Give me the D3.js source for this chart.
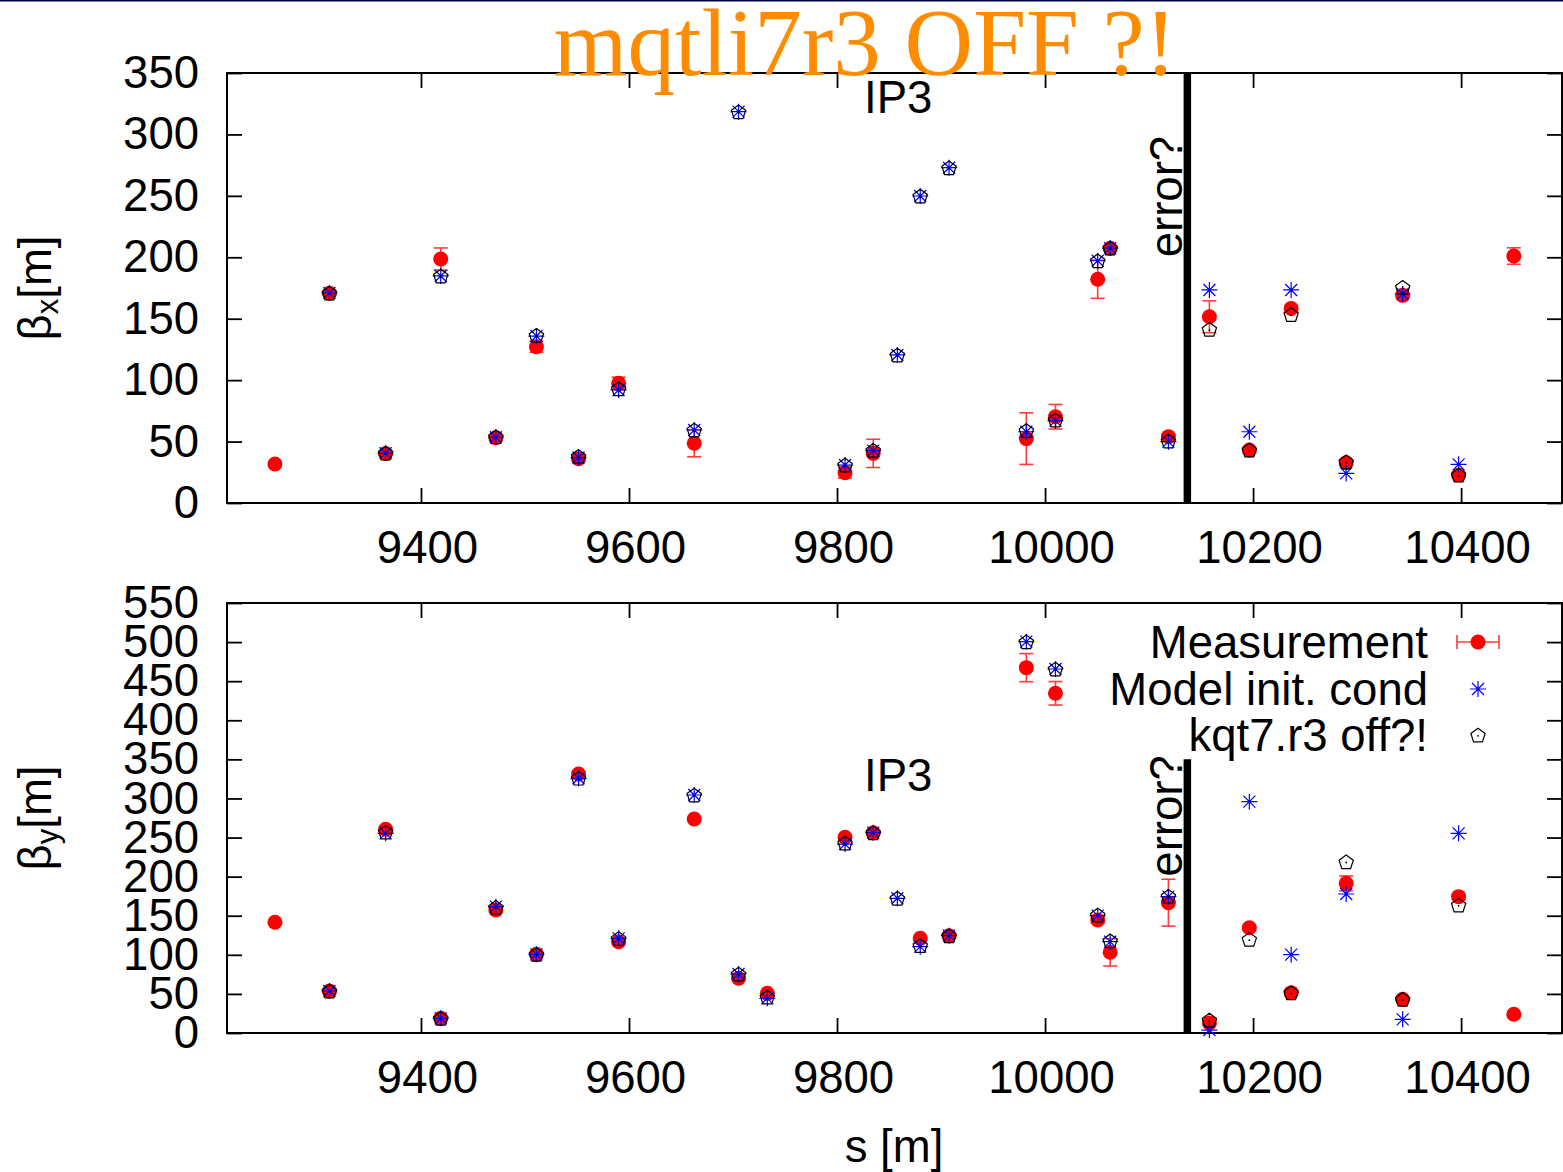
<!DOCTYPE html>
<html>
<head>
<meta charset="utf-8">
<script src="https://cdn.jsdelivr.net/npm/d3@7/dist/d3.min.js"></script>
<style>
  html, body { margin: 0; padding: 0; background: #fff; }
  svg { display: block; }
  text { font-family: "Liberation Sans", Arial, sans-serif; }
</style>
</head>
<body>
<svg id="chart" width="1563" height="1172"></svg>
<script>
// ---------------- data ----------------
const sPos = [9259.6, 9312, 9366, 9419, 9472, 9511, 9551.5, 9590, 9662.7, 9705.3, 9733, 9807.7, 9834.8, 9858, 9880, 9907.7, 9982, 10010, 10050.6, 10062.6, 10118.6, 10158, 10196.4, 10236.6, 10289.5, 10343.8, 10397.6, 10450.7];

// horizontal plane (top panel)
const measX  = [31.7, 170.8, 40.3, 198.6, 53.2, 127.2, 36, 97.4, 48.6, null, null, 24.7, 40.4, null, null, null, 52.4, 70.2, 182.1, 207.3, 54, 151.6, 43.1, 158.4, 32.8, 169, 22.8, 201];
const errX   = [1, 1.5, 1.5, 9, 2, 4.5, 2, 5, 11, null, null, 4.5, 11.5, null, null, null, 21, 10, 15.5, 2, 2, 13, 2, 2, 2, 2, 2, 6.7];
const modelX = [null, 171, 40.6, 184.8, 53.5, 135.9, 37, 92, 59.4, 318.5, null, 30.9, 42.6, 120.5, 249.9, 272.9, 58, 67, 197.2, 207.5, 49.9, 173.4, 58, 173.4, 24.1, 170.1, 31.5, null];
const offX   = [null, 171, 40.6, 184.8, 54, 136.5, 38, 93, 59.4, 318.5, null, 30.9, 43, 120.5, 249.9, 272.9, 59, 67.5, 197.2, 207.5, 50.5, 141.4, 43.1, 153.5, 33.6, 175.6, 22.8, null];

// vertical plane (bottom panel)
const measY  = [141.6, 53.7, 260.5, 18.8, 157.3, 100.6, 331.3, 116.8, 273.7, 70, 50.7, 250.3, 256.2, null, 121.1, 124.5, 467.3, 434.5, 144.5, 103.2, 166.7, 12.8, 134.7, 51.6, 191.4, 43.1, 174.4, 23.9];
const errY   = [1, 2, 3, 2, 2, 2, 3, 2, 2, 2, 2, 3, 3, null, 2, 2, 18, 15, 4, 17.5, 30, 2, 3, 2, 9.5, 2, 3, 2];
const modelY = [null, 53.7, 255.4, 18.8, 161.6, 100.6, 325.8, 121.1, 304.4, 75.5, 44.3, 241.7, 256.2, 172.3, 110.4, 124.5, 500.5, 465.6, 150.1, 116.8, 174.4, 3.8, 295.9, 100.2, 177.8, 17.5, 255.4, null];
const offY   = [null, 53.7, 257, 18.8, 161, 100.6, 326, 121, 304.4, 75.5, 46, 243, 256.2, 172.3, 112, 124.5, 500.5, 465.6, 151, 118, 175, 16.6, 119.8, 51.6, 219.1, 43.1, 163.7, null];

const xTicks = [9400, 9600, 9800, 10000, 10200, 10400];
const yTicksTop = [0, 50, 100, 150, 200, 250, 300, 350];
const yTicksBot = [0, 50, 100, 150, 200, 250, 300, 350, 400, 450, 500, 550];

const titleText = "mqtli7r3 OFF ?!";
const legendLabels = ["Measurement", "Model init. cond", "kqt7.r3 off?!"];
const errorLineS = 10136.8, errorLineTop = 350;
const errorLabel = {s: 10116, v: 200, text: "error?"};
const ipLabel = {s: 9826, v: 330, text: "IP3"};

// ---------------- layout ----------------
const svg = d3.select("#chart");
const L = 227, R = 1562;
const x = d3.scaleLinear().domain([9213.5, 10497]).range([L, R]);
const panels = [
  {top: 73, bottom: 503, domain: [0, 350], ticks: yTicksTop, meas: measX, err: errX, model: modelX, off: offX, sub: "x", legend: false},
  {top: 603, bottom: 1033, domain: [0, 550], ticks: yTicksBot, meas: measY, err: errY, model: modelY, off: offY, sub: "y", legend: true}
];

const RED = "#ff0000", ERR = "#ff3b3b", BLUE = "#0000ff";
const FS = 45.5;

// top navy strip
svg.append("rect").attr("x", 0).attr("y", 0).attr("width", 1563).attr("height", 1.5).attr("fill", "#000040");

function asterisk(g, cx, cy, r) {
  const p = d3.path();
  p.moveTo(cx - r, cy); p.lineTo(cx + r, cy);
  p.moveTo(cx, cy - r); p.lineTo(cx, cy + r);
  const d = r * 0.75;
  p.moveTo(cx - d, cy - d); p.lineTo(cx + d, cy + d);
  p.moveTo(cx - d, cy + d); p.lineTo(cx + d, cy - d);
  g.append("path").attr("d", p.toString()).attr("stroke", BLUE).attr("stroke-width", 1.2).attr("fill", "none");
}
function pentagon(g, cx, cy, r) {
  const pts = d3.range(5).map(i => {
    const a = -Math.PI / 2 + i * 2 * Math.PI / 5;
    return [cx + r * Math.cos(a), cy + r * Math.sin(a) + 0.8];
  });
  g.append("polygon").attr("points", pts.map(p => p.join(",")).join(" "))
    .attr("fill", "none").attr("stroke", "#000").attr("stroke-width", 1.2);
  g.append("circle").attr("cx", cx).attr("cy", cy + 0.8).attr("r", 0.9).attr("fill", "#000");
}
function errbar(g, cx, cy1, cy2, cap) {
  g.append("line").attr("x1", cx).attr("x2", cx).attr("y1", cy1).attr("y2", cy2)
    .attr("stroke", ERR).attr("stroke-width", 1.6);
  [cy1, cy2].forEach(yy => g.append("line").attr("x1", cx - cap).attr("x2", cx + cap)
    .attr("y1", yy).attr("y2", yy).attr("stroke", ERR).attr("stroke-width", 1.6));
}

panels.forEach(P => {
  const y = d3.scaleLinear().domain(P.domain).range([P.bottom, P.top]);
  const g = svg.append("g");

  // axes
  const ax = g.append("g").attr("transform", `translate(0,${P.bottom})`)
    .call(d3.axisBottom(x).tickValues(xTicks).tickSizeInner(-15).tickSizeOuter(0).tickPadding(28).tickFormat(d3.format("d")));
  ax.selectAll("text").attr("dx", 6);
  const axT = g.append("g").attr("transform", `translate(0,${P.top})`)
    .call(d3.axisTop(x).tickValues(xTicks).tickSizeInner(-15).tickSizeOuter(0).tickFormat(""));
  const ay = g.append("g").attr("transform", `translate(${L},0)`)
    .call(d3.axisLeft(y).tickValues(P.ticks).tickSizeInner(-15).tickSizeOuter(0).tickPadding(28));
  const ayR = g.append("g").attr("transform", `translate(${R},0)`)
    .call(d3.axisRight(y).tickValues(P.ticks).tickSizeInner(-15).tickSizeOuter(0).tickFormat(""));
  [ax, axT, ay, ayR].forEach(a => {
    a.select(".domain").remove();
    a.selectAll("line").attr("stroke", "#000").attr("stroke-width", 1.8);
    a.selectAll("text").attr("fill", "#000").style("font-size", FS + "px")
      .style("font-family", '"Liberation Sans", Arial, sans-serif');
  });
  g.append("rect").attr("x", L).attr("y", P.top).attr("width", R - L).attr("height", P.bottom - P.top)
    .attr("fill", "none").attr("stroke", "#000").attr("stroke-width", 2);

  // y label
  const yl = g.append("text").attr("transform", `translate(51,${(P.top + P.bottom) / 2}) rotate(-90)`)
    .attr("text-anchor", "middle").style("font-size", FS + "px").attr("fill", "#000");
  yl.append("tspan").text("β");
  yl.append("tspan").attr("dy", 7).style("font-size", "31px").text(P.sub);
  yl.append("tspan").attr("dy", -7).text("[m]");

  // labels
  g.append("text").attr("x", x(ipLabel.s)).attr("y", y(ipLabel.v)).attr("dy", "0.35em")
    .style("font-size", FS + "px").attr("fill", "#000").text(ipLabel.text);
  g.append("line").attr("x1", x(errorLineS)).attr("x2", x(errorLineS))
    .attr("y1", y(0)).attr("y2", y(errorLineTop)).attr("stroke", "#000").attr("stroke-width", 7.5);
  g.append("text").attr("transform", `translate(${x(errorLabel.s)},${y(errorLabel.v)}) rotate(-90)`)
    .attr("dy", "0.35em").style("font-size", FS + "px").attr("fill", "#000").text(errorLabel.text);

  // data
  const gm = g.append("g"), gb = g.append("g"), gk = g.append("g");
  sPos.forEach((s, i) => {
    const cx = x(s);
    if (P.meas[i] != null) {
      const v = P.meas[i], e = P.err[i] || 0;
      errbar(gm, cx, y(v - e), y(v + e), 7);
      gm.append("circle").attr("cx", cx).attr("cy", y(v)).attr("r", 7.5).attr("fill", RED);
    }
    if (P.model[i] != null) asterisk(gb, cx, y(P.model[i]), 8);
    if (P.off[i] != null) pentagon(gk, cx, y(P.off[i]), 7.5);
  });

  // legend
  if (P.legend) {
    const rows = [642, 689, 735];
    const lg = g.append("g");
    legendLabels.forEach((t, i) => {
      lg.append("text").attr("x", 1428).attr("y", rows[i]).attr("dy", "0.35em")
        .attr("text-anchor", "end").style("font-size", FS + "px").attr("fill", "#000").text(t);
    });
    const cx = 1478;
    lg.append("line").attr("x1", cx - 21).attr("x2", cx + 21).attr("y1", rows[0]).attr("y2", rows[0])
      .attr("stroke", ERR).attr("stroke-width", 1.6);
    [cx - 21, cx + 21].forEach(xx => lg.append("line").attr("x1", xx).attr("x2", xx)
      .attr("y1", rows[0] - 7).attr("y2", rows[0] + 7).attr("stroke", ERR).attr("stroke-width", 1.6));
    lg.append("circle").attr("cx", cx).attr("cy", rows[0]).attr("r", 7.5).attr("fill", RED);
    asterisk(lg, cx, rows[1], 8);
    pentagon(lg, cx, rows[2], 7.5);
  }
});

// x label
svg.append("text").attr("x", 894).attr("y", 1162).attr("text-anchor", "middle")
  .style("font-size", FS + "px").attr("fill", "#000").text("s [m]");

// title
svg.append("text").attr("x", 865).attr("y", 75).attr("text-anchor", "middle")
  .style("font-family", '"Liberation Serif", "Times New Roman", serif').style("font-size", "95px")
  .attr("fill", "#ff8c00").text(titleText);
</script>
</body>
</html>
